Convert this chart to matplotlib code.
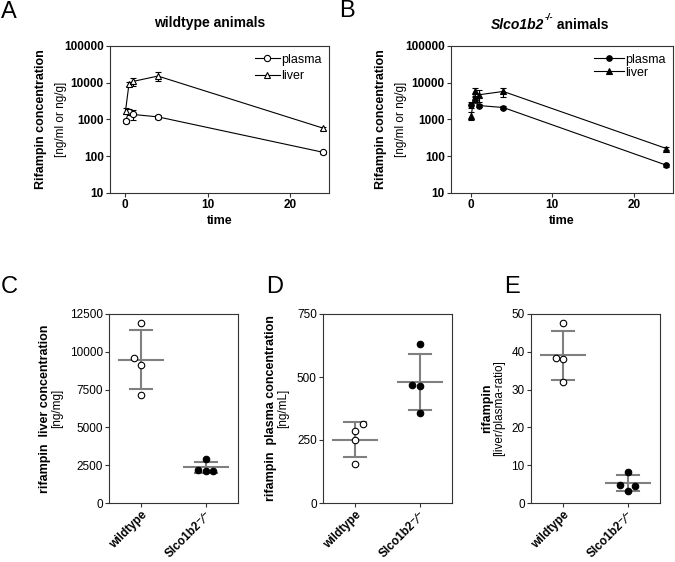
import numpy as np
import matplotlib
matplotlib.use("Agg")
import matplotlib.pyplot as plt

plt.rcParams["font.family"] = ["Liberation Sans", "DejaVu Sans"]
plt.rcParams["mathtext.fontset"] = "custom"
plt.rcParams["mathtext.rm"] = "Liberation Sans"
plt.rcParams["mathtext.bf"] = "Liberation Sans:bold"
plt.rcParams["mathtext.it"] = "Liberation Sans:italic:bold"

# time course data (hours)
times = [0.083, 0.5, 1, 4, 24]
wt_plasma = [920, 1650, 1370, 1180, 128]
wt_plasma_sd = [100, 250, 400, 120, 12]
wt_liver = [1750, 9400, 10900, 15200, 580]
wt_liver_sd = [300, 1200, 2500, 4000, 60]
ko_plasma = [2500, 3500, 2400, 2120, 57]
ko_plasma_sd = [500, 500, 200, 150, 5]
ko_liver = [1280, 5800, 4700, 5800, 162]
ko_liver_sd = [300, 1500, 1700, 1600, 15]

groups = ["wildtype", "Slco1b2\u207b\u2044\u207b"]

# individual animals
liver_wt = [11925, 9602, 9159, 7168]
liver_ko = [2920, 2190, 2146, 2146]
plasma_wt = [313, 287, 250, 153]
plasma_ko = [630, 470, 465, 359]
ratio_wt = [47.7, 38.4, 38.2, 31.9]
ratio_ko = [8.2, 4.7, 4.6, 3.3]

W, H = 675, 562
fig = plt.figure(figsize=(W / 100, H / 100), dpi=100)

SPINE = "#333333"


def box(left, top, right, bottom):
    return fig.add_axes([left / W, (H - bottom) / H, (right - left) / W, (bottom - top) / H])


def style(ax, bold_ticks):
    for s in ax.spines.values():
        s.set_color(SPINE)
        s.set_linewidth(0.8)
    ax.tick_params(direction="out", length=3, width=0.8, color=SPINE, labelsize=8.5, pad=1.5)
    if bold_ticks:
        for lab in ax.get_xticklabels() + ax.get_yticklabels():
            lab.set_fontweight("bold")


def ylab(ax, bold, plain, xb, xp):
    ax.text(xb, 0.5, bold, transform=ax.transAxes, rotation=90, ha="center", va="center",
            fontsize=9, fontweight="bold")
    ax.text(xp, 0.5, plain, transform=ax.transAxes, rotation=90, ha="center", va="center",
            fontsize=8.5)


def timecourse(ax, plasma, plasma_sd, liver, liver_sd, filled):
    fc = "black" if filled else "white"
    ax.errorbar(times, plasma, yerr=plasma_sd, color="black", lw=0.8, marker="o", ms=4.5 if not filled else 4,
                mfc=fc, mec="black", mew=0.8, capsize=2.5, elinewidth=0.8, label="plasma")
    ax.errorbar(times, liver, yerr=liver_sd, color="black", lw=0.8, marker="^", ms=4,
                mfc=fc, mec="black", mew=0.8, capsize=2.5, elinewidth=0.8, label="liver")
    ax.set_yscale("log")
    ax.set_ylim(10, 100000)
    ax.set_yticks([10, 100, 1000, 10000, 100000])
    ax.set_yticklabels(["10", "100", "1000", "10000", "100000"])
    ax.minorticks_off()
    ax.set_xticks([0, 10, 20])
    ax.set_xlabel("time", fontsize=9, fontweight="bold", labelpad=3)
    style(ax, True)
    h, l = ax.get_legend_handles_labels()
    h = [x[0] for x in h]
    return h, l


# panel A
axA = box(110, 46, 329, 193)
axA.set_xlim(-1.8, 24.7)
h, l = timecourse(axA, wt_plasma, wt_plasma_sd, wt_liver, wt_liver_sd, False)
axA.legend(h, l, loc="upper right", frameon=False, fontsize=9, handlelength=2.0,
           handletextpad=0.1, labelspacing=0.35, borderaxespad=0.2, bbox_to_anchor=(1.0, 1.0))
ylab(axA, "Rifampin concentration", "[ng/ml or ng/g]", -0.315, -0.225)
fig.text(210 / W, 1 - 23 / H, "wildtype animals", ha="center", va="center", fontsize=10, fontweight="bold")

# panel B
axB = box(451, 46, 673, 193)
axB.set_xlim(-2.4, 24.8)
h, l = timecourse(axB, ko_plasma, ko_plasma_sd, ko_liver, ko_liver_sd, True)
axB.legend(h, l, loc="upper right", frameon=False, fontsize=9, handlelength=2.4,
           handletextpad=0.1, labelspacing=0.1, borderaxespad=0.2, bbox_to_anchor=(1.0, 1.0))
ylab(axB, "Rifampin concentration", "[ng/ml or ng/g]", -0.315, -0.225)
t1 = fig.text(491 / W, 1 - 29 / H, "Slco1b2", ha="left", va="baseline", fontsize=10,
              fontweight="bold", fontstyle="italic")
t2 = axB.annotate("-/-", xy=(1, 0.75), xycoords=t1, ha="left", va="bottom", fontsize=6.5,
                  fontweight="bold", fontstyle="italic", annotation_clip=False)
axB.annotate(" animals", xy=(1, 0), xycoords=(t2, t1), ha="left", va="bottom", fontsize=10,
             fontweight="bold", annotation_clip=False)


def dotplot(ax, wt, ko, wt_off, ko_off):
    for i, (vals, off) in enumerate([(wt, wt_off), (ko, ko_off)]):
        vals = np.asarray(vals, float)
        m, sd = vals.mean(), vals.std(ddof=1)
        ax.plot([i - 0.34, i + 0.34], [m, m], color="#808080", lw=1.5, zorder=2)
        ax.plot([i - 0.17, i + 0.17], [m + sd, m + sd], color="#808080", lw=1.5, zorder=2)
        ax.plot([i - 0.17, i + 0.17], [m - sd, m - sd], color="#808080", lw=1.5, zorder=2)
        ax.plot([i, i], [m - sd, m + sd], color="#808080", lw=1.5, zorder=2)
        ax.scatter(i + np.asarray(off), vals, s=22, facecolor="white" if i == 0 else "black",
                   edgecolor="black", linewidth=0.8, zorder=3)
    ax.set_xlim(-0.5, 1.5)
    ax.set_xticks([0, 1])
    ax.set_xticklabels(groups, rotation=45, ha="right", rotation_mode="anchor",
                       fontweight="bold", fontsize=7.5)
    style(ax, False)
    ax.tick_params(axis="x", pad=1.5)


axC = box(109, 314, 238, 503)
dotplot(axC, liver_wt, liver_ko, [0, -0.12, 0, 0], [0, -0.12, 0, 0.12])
axC.set_ylim(0, 12500)
axC.set_yticks([0, 2500, 5000, 7500, 10000, 12500])
ylab(axC, "rifampin  liver concentration", "[ng/mg]", -0.5, -0.4)

axD = box(323, 314, 452, 503)
dotplot(axD, plasma_wt, plasma_ko, [0.12, 0, 0, 0], [0, -0.12, 0, 0])
axD.set_ylim(0, 750)
axD.set_yticks([0, 250, 500, 750])
ylab(axD, "rifampin  plasma concentration", "[ng/mL]", -0.4, -0.31)

axE = box(531, 314, 660, 503)
dotplot(axE, ratio_wt, ratio_ko, [0, -0.12, 0, 0], [0, -0.12, 0.12, 0])
axE.set_ylim(0, 50)
axE.set_yticks([0, 10, 20, 30, 40, 50])
ylab(axE, "rifampin", "[liver/plasma-ratio]", -0.34, -0.245)

for txt, x, y in [("A", 9, 12), ("B", 347, 11), ("C", 9, 287), ("D", 275, 287), ("E", 512, 287)]:
    fig.text(x / W, 1 - y / H, txt, ha="center", va="center", fontsize=17)

fig.savefig("out.png", dpi=100)
